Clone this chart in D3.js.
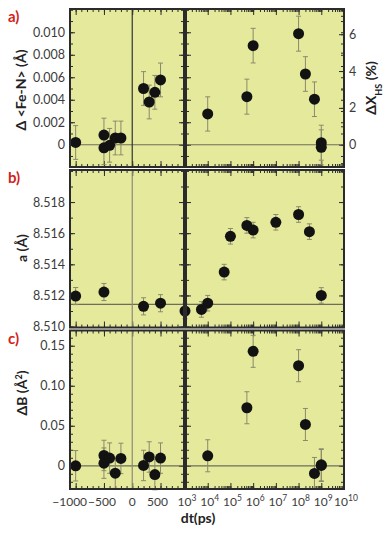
<!DOCTYPE html>
<html>
<head>
<meta charset="utf-8">
<script src="https://cdn.jsdelivr.net/npm/d3@7"></script>
<style>
  body { margin: 0; background: #fff; }
  text { font-family: Lato, "DejaVu Sans", sans-serif; }
</style>
</head>
<body>
<svg id="chart" width="386" height="533"></svg>
<script>
// ---- data ----
// panel a: Δ<Fe-N> (Å) for negative / short delays, ΔX_HS (%) for long delays
let aLinDt = [-1000, -500, -500, -400, -300, -200, 200, 300, 400, 500]
let aLinVal = [0.0002, 0.00086, -0.00027, -0.00005, 0.0006, 0.0006, 0.005, 0.0038, 0.00466, 0.00576]
let aLinErr = [0.0015, 0.0015, 0.0015, 0.0015, 0.0015, 0.0015, 0.0015, 0.0015, 0.0015, 0.0015]
let aLogDt = [1e4, 5.3e5, 1e6, 1e8, 2e8, 5e8, 1e9, 1e9]
let aLogVal = [1.67, 2.61, 5.38, 6.03, 3.84, 2.47, 0.11, -0.14]
let aLogErr = [0.93, 0.95, 0.94, 0.95, 0.94, 0.94, 0.95, 0.95]

// panel b: lattice parameter a (Å)
let bLinDt = [-1000, -500, 200, 500]
let bLinVal = [8.51196, 8.51222, 8.5113, 8.5115]
let bLinErr = [0.00055, 0.00055, 0.00055, 0.00055]
let bLogDt = [1e3, 5.3e3, 1e4, 5.3e4, 1e5, 5.3e5, 1e6, 1e7, 1e8, 3e8, 1e9]
let bLogVal = [8.511, 8.5111, 8.5115, 8.5135, 8.5158, 8.5165, 8.5162, 8.5167, 8.5172, 8.5161, 8.512]
let bLogErr = [0.0005, 0.0005, 0.0005, 0.0005, 0.0005, 0.0005, 0.0005, 0.0005, 0.0005, 0.0005, 0.0005]
let bRef = 8.51143

// panel c: ΔB (Å²)
let cLinDt = [-1000, -500, -500, -400, -300, -200, 200, 300, 400, 500]
let cLinVal = [0, 0.0129, 0.0033, 0.0096, -0.0092, 0.0092, 0.0004, 0.011, -0.011, 0.0096]
let cLinErr = [0.019, 0.019, 0.019, 0.019, 0.019, 0.019, 0.019, 0.019, 0.019, 0.019]
let cLogDt = [1e4, 5.3e5, 1e6, 1e8, 2e8, 5e8, 1e9, 1e9]
let cLogVal = [0.0125, 0.0725, 0.143, 0.125, 0.0516, -0.0096, 0.0004, 0.0012]
let cLogErr = [0.02, 0.02, 0.02, 0.02, 0.02, 0.02, 0.02, 0.02]

// tick values
let linMajor = [-1000, -500, 0, 500]
let linLabels = ['\u22121000', '\u2212500', '0', '500']
let linMinor = d3.range(-1100, 901, 100)
let logMajor = [1e3, 1e4, 1e5, 1e6, 1e7, 1e8, 1e9, 1e10]
let logExp = ['3', '4', '5', '6', '7', '8', '9', '10']
let aTicks = [0, 0.002, 0.004, 0.006, 0.008, 0.01]
let aTickLabels = ['0', '0.002', '0.004', '0.006', '0.008', '0.010']
let xhsTicks = [0, 2, 4, 6]
let bTicks = [8.51, 8.512, 8.514, 8.516, 8.518]
let cTicks = [0, 0.05, 0.1, 0.15]
let cTickLabels = ['0', '0.05', '0.10', '0.15']

// ---- layout ----
let svg = d3.select('#chart')
let bg = '#e5e99c'
let frameColor = '#2b2b2b'
let errColor = '#8a8a6c'

let xLeft = 70, xDiv = 184, xRight = 344
let xLin = d3.scaleLinear().domain([-1100, 915]).range([xLeft, xDiv])
let xLog = d3.scaleLog().domain([1e3, 1e10]).range([185, xRight])

let logMinor = []
for (let d = 3; d < 10; d++) {
  for (let k = 1; k < 10; k++) logMinor.push(k * Math.pow(10, d))
}

let panels = [
  {
    top: 9, bottom: 167, label: 'a)',
    y: d3.scaleLinear().domain([-0.00198, 0.01207]),
    y2: d3.scaleLinear().domain([-1.21, 7.37]),
    major: aTicks, labels: aTickLabels, minor: d3.range(-0.001, 0.0121, 0.001),
    ref: 0, zeroColor: '#333',
    lin: [aLinDt, aLinVal, aLinErr], log: [aLogDt, aLogVal, aLogErr]
  },
  {
    top: 170, bottom: 327.5, label: 'b)',
    y: d3.scaleLinear().domain([8.50994, 8.52006]),
    major: bTicks, labels: bTicks.map(d3.format('.3f')), minor: d3.range(8.510, 8.5201, 0.001),
    ref: bRef, zeroColor: '#8a8a7a',
    lin: [bLinDt, bLinVal, bLinErr], log: [bLogDt, bLogVal, bLogErr]
  },
  {
    top: 330.5, bottom: 489, label: 'c)',
    y: d3.scaleLinear().domain([-0.029, 0.169]),
    major: cTicks, labels: cTickLabels, minor: d3.range(-0.02, 0.161, 0.01),
    ref: 0, zeroColor: '#8a8a7a',
    lin: [cLinDt, cLinVal, cLinErr], log: [cLogDt, cLogVal, cLogErr]
  }
]

function clean(g) {
  g.select('.domain').remove()
  g.selectAll('.tick line').attr('stroke', frameColor)
  g.selectAll('.tick text').attr('fill', '#3c3c3c').attr('font-size', 12.5)
}

panels.forEach(p => {
  p.y.range([p.bottom, p.top])
  if (p.y2) p.y2.range([p.bottom, p.top])
  let g = svg.append('g')
  let h = p.bottom - p.top

  // backgrounds
  g.append('rect').attr('x', xLeft).attr('y', p.top).attr('width', xDiv - xLeft).attr('height', h).attr('fill', bg)
  g.append('rect').attr('x', xDiv + 2).attr('y', p.top).attr('width', xRight - xDiv - 2).attr('height', h).attr('fill', bg)

  // y ticks on every vertical edge
  g.append('g').attr('transform', `translate(${xLeft},0)`)
    .call(d3.axisLeft(p.y).tickValues(p.major).tickSize(-5).tickPadding(5).tickFormat((d, i) => p.labels[i]))
    .call(clean)
  ;[[xLeft, 1], [xDiv, -1], [xDiv + 2, 1], [xRight, -1]].forEach(([x, dir]) => {
    let ax = dir > 0 ? d3.axisLeft(p.y) : d3.axisRight(p.y)
    g.append('g').attr('transform', `translate(${x},0)`)
      .call(ax.tickValues(p.minor).tickSize(-3).tickFormat(''))
      .call(clean)
    if (x !== xLeft && !(x === xRight && p.y2)) {
      g.append('g').attr('transform', `translate(${x},0)`)
        .call((dir > 0 ? d3.axisLeft(p.y) : d3.axisRight(p.y)).tickValues(p.major).tickSize(-5).tickFormat(''))
        .call(clean)
    }
  })
  if (p.y2) {
    g.append('g').attr('transform', `translate(${xRight},0)`)
      .call(d3.axisRight(p.y2).tickValues(d3.range(-1, 8)).tickSize(-3).tickFormat(''))
      .call(clean)
    g.append('g').attr('transform', `translate(${xRight},0)`)
      .call(d3.axisRight(p.y2).tickValues(xhsTicks).tickSize(-5).tickPadding(5))
      .call(clean)
  }

  // x ticks, top and bottom, pointing inward
  ;[[p.top, d3.axisBottom], [p.bottom, d3.axisTop]].forEach(([y, axis]) => {
    g.append('g').attr('transform', `translate(0,${y})`)
      .call(axis(xLin).tickValues(linMinor).tickSize(3).tickFormat('')).call(clean)
    g.append('g').attr('transform', `translate(0,${y})`)
      .call(axis(xLin).tickValues(linMajor).tickSize(6).tickFormat('')).call(clean)
    g.append('g').attr('transform', `translate(0,${y})`)
      .call(axis(xLog).tickValues(logMinor).tickSize(3).tickFormat('')).call(clean)
    g.append('g').attr('transform', `translate(0,${y})`)
      .call(axis(xLog).tickValues(logMajor).tickSize(6).tickFormat('')).call(clean)
  })

  // reference lines
  g.append('line')
    .attr('x1', xLeft).attr('x2', xRight)
    .attr('y1', p.y(p.ref)).attr('y2', p.y(p.ref))
    .attr('stroke', '#6e6e58').attr('stroke-width', 1.2)
  g.append('line')
    .attr('x1', xLin(0)).attr('x2', xLin(0))
    .attr('y1', p.top).attr('y2', p.bottom)
    .attr('stroke', p.zeroColor).attr('stroke-width', 1.2)

  // points
  let pts = []
  p.lin[0].forEach((d, i) => pts.push({ x: xLin(d), v: p.lin[1][i], e: p.lin[2][i], y: p.y }))
  p.log[0].forEach((d, i) => pts.push({ x: xLog(d), v: p.log[1][i], e: p.log[2][i], y: p.y2 || p.y }))

  let bars = g.selectAll('.err').data(pts).enter().append('g').attr('class', 'err')
    .attr('stroke', errColor).attr('stroke-width', 1)
  bars.append('line')
    .attr('x1', d => d.x).attr('x2', d => d.x)
    .attr('y1', d => d.y(d.v - d.e)).attr('y2', d => d.y(d.v + d.e))
  bars.append('line')
    .attr('x1', d => d.x - 2.5).attr('x2', d => d.x + 2.5)
    .attr('y1', d => d.y(d.v + d.e)).attr('y2', d => d.y(d.v + d.e))
  bars.append('line')
    .attr('x1', d => d.x - 2.5).attr('x2', d => d.x + 2.5)
    .attr('y1', d => d.y(d.v - d.e)).attr('y2', d => d.y(d.v - d.e))

  g.selectAll('.pt').data(pts).enter().append('circle')
    .attr('class', 'pt')
    .attr('cx', d => d.x).attr('cy', d => d.y(d.v))
    .attr('r', 5.5).attr('fill', '#121212')

  // frames
  g.append('rect').attr('x', xLeft).attr('y', p.top).attr('width', xDiv - xLeft).attr('height', h)
    .attr('fill', 'none').attr('stroke', frameColor).attr('stroke-width', 2)
  g.append('rect').attr('x', xDiv + 2).attr('y', p.top).attr('width', xRight - xDiv - 2).attr('height', h)
    .attr('fill', 'none').attr('stroke', frameColor).attr('stroke-width', 2)

  // panel letter
  g.append('text').attr('x', 8).attr('y', p.top + 13)
    .attr('fill', '#d21f1a').attr('font-weight', 'bold').attr('font-size', 15)
    .text(p.label)
})

// axis titles
function vTitle(x, y, parts) {
  let t = svg.append('text')
    .attr('transform', `translate(${x},${y}) rotate(-90)`)
    .attr('text-anchor', 'middle').attr('font-weight', 'bold')
    .attr('font-size', 14).attr('fill', '#222')
  parts.forEach(([s, shift, size]) => {
    let ts = t.append('tspan').text(s)
    if (shift) ts.attr('baseline-shift', shift)
    if (size) ts.attr('font-size', size)
  })
}
vTitle(26, 90, [['\u0394 <Fe-N> (\u00c5)']])
vTitle(27, 248, [['a (\u00c5)']])
vTitle(27, 393, [['\u0394B (\u00c5'], ['2', 'super', 9], [')']])
vTitle(376, 88, [['\u0394X'], ['HS', 'sub', 9], [' (%)']])

// x tick labels below the bottom panel
let linShift = { '-1000': -6, '-500': -2, '0': 0, '500': -3 }
let xl = svg.append('g').attr('font-size', 12).attr('fill', '#3c3c3c').attr('text-anchor', 'middle')
linMajor.forEach((d, i) => {
  xl.append('text').attr('x', xLin(d)).attr('dx', linShift[d]).attr('y', 506).text(linLabels[i])
})
logMajor.forEach((d, i) => {
  let t = xl.append('text').attr('x', xLog(d) + 2).attr('y', 506)
  t.append('tspan').text('10')
  t.append('tspan').attr('baseline-shift', 'super').attr('font-size', 8.5).text(logExp[i])
})

svg.append('text')
  .attr('x', 198).attr('y', 523)
  .attr('text-anchor', 'middle').attr('font-weight', 'bold')
  .attr('font-size', 14).attr('fill', '#222')
  .text('dt(ps)')
</script>
</body>
</html>
